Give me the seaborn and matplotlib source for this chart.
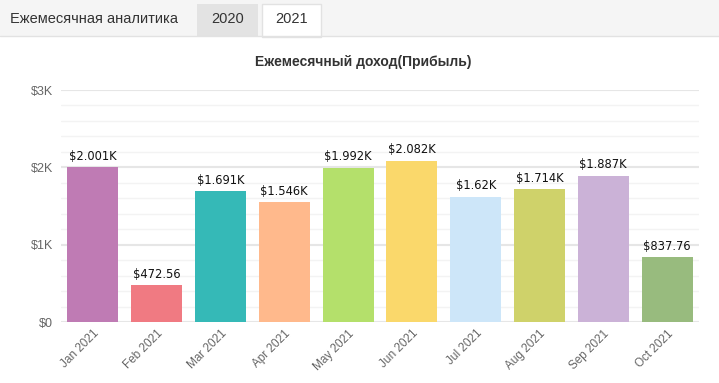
import matplotlib
matplotlib.use("Agg")
import matplotlib.pyplot as plt
import seaborn as sns
import pandas as pd
from matplotlib.patches import Rectangle
from matplotlib.ticker import MultipleLocator, FuncFormatter

# Monthly profit, 2021
months = ["Jan 2021", "Feb 2021", "Mar 2021", "Apr 2021", "May 2021",
          "Jun 2021", "Jul 2021", "Aug 2021", "Sep 2021", "Oct 2021"]
profit = [2001, 472.56, 1691, 1546, 1992, 2082, 1620, 1714, 1887, 837.76]
colors = ["#bf7bb4", "#f07a82", "#35b9b7", "#ffb98c", "#b4e06b",
          "#fad86b", "#cde6f9", "#cfd26a", "#cbb2d7", "#98bb7e"]
tabs = ["2020", "2021"]

df = pd.DataFrame({"month": months, "profit": profit})

sns.set_style("white")
plt.rcParams["font.family"] = ["Liberation Sans", "DejaVu Sans"]

W, H = 719, 383
fig = plt.figure(figsize=(W / 100, H / 100), dpi=100)

# tab strip at the top
fig.patches.append(Rectangle((0, 1 - 36 / H), 1, 36 / H, transform=fig.transFigure,
                             facecolor="#f5f5f5", edgecolor="none", zorder=0))
fig.add_artist(plt.Line2D([0, 1], [1 - 36 / H, 1 - 36 / H], transform=fig.transFigure,
                          color="#e2e2e2", lw=1))
fig.patches.append(Rectangle((197 / W, 1 - 36 / H), 61 / W, 32 / H, transform=fig.transFigure,
                             facecolor="#e3e3e3", edgecolor="none"))
fig.patches.append(Rectangle((262 / W, 1 - 37 / H), 59 / W, 33 / H, transform=fig.transFigure,
                             facecolor="white", edgecolor="#e2e2e2", lw=1))
fig.text(10 / W, 1 - 19 / H, "Ежемесячная аналитика", fontsize=10.5, color="#333333",
         va="center", ha="left")
fig.text(227.5 / W, 1 - 19 / H, tabs[0], fontsize=10.5, color="#333333", va="center", ha="center")
fig.text(291.5 / W, 1 - 19 / H, tabs[1], fontsize=10.5, color="#333333", va="center", ha="center")

fig.text(363 / W, 1 - 62 / H, "Ежемесячный доход(Прибыль)", fontsize=10, fontweight="bold",
         color="#333333", va="center", ha="center")

ax = fig.add_axes([61 / W, 1 - 322 / H, 638 / W, 232 / H])
sns.barplot(data=df, x="month", y="profit", hue="month", palette=colors, legend=False,
            width=0.8, linewidth=0, saturation=1, ax=ax, zorder=3)

ax.set_ylim(0, 3000)
ax.yaxis.set_major_locator(MultipleLocator(1000))
ax.yaxis.set_minor_locator(MultipleLocator(200))
ax.yaxis.set_major_formatter(FuncFormatter(lambda v, p: "$0" if v == 0 else f"${v / 1000:.0f}K"))
ax.grid(True, which="major", axis="y", color="#e6e6e6", lw=1.5, zorder=0)
ax.grid(True, which="minor", axis="y", color="#f3f3f3", lw=1, zorder=0)
ax.set_axisbelow(True)
for s in ax.spines.values():
    s.set_visible(False)
ax.set_xlabel("")
ax.set_ylabel("")
ax.tick_params(axis="y", which="both", length=0, labelsize=9, labelcolor="#666666", pad=6)
ax.tick_params(axis="x", length=0, labelsize=8.5, labelcolor="#666666", pad=4)
plt.setp(ax.get_xticklabels(), rotation=45, ha="right", rotation_mode="anchor")


def fmt(v):
    if v >= 1000:
        return "$" + f"{v / 1000:.3f}".rstrip("0").rstrip(".") + "K"
    return f"${v:.2f}"


for i, v in enumerate(profit):
    ax.text(i, v + 60, fmt(v), ha="center", va="bottom", fontsize=8.3,
            family="DejaVu Sans", color="#111111", zorder=4)

fig.savefig("out.png", dpi=100)
